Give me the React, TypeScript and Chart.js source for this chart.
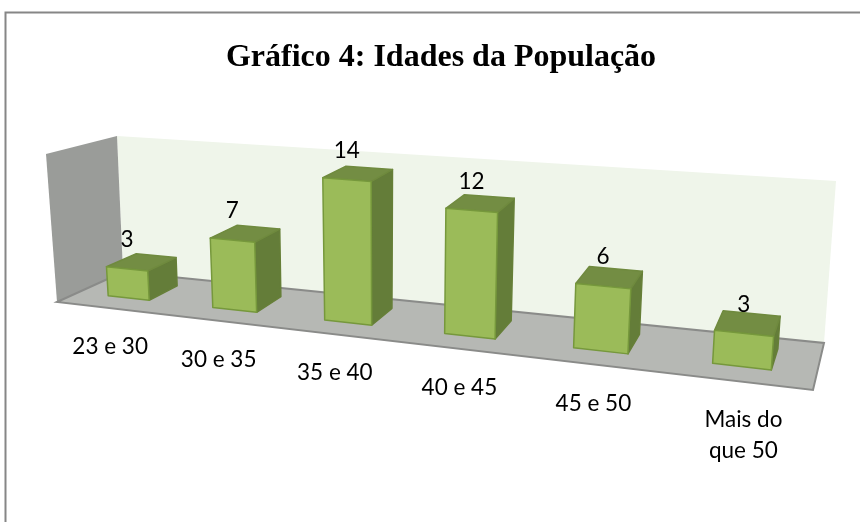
import React, { useEffect, useRef } from "react";
import { Chart, registerables } from "chart.js";

Chart.register(...registerables);

const titleText = "Gráfico 4: Idades da População";
const categories = ["23 e 30", "30 e 35", "35 e 40", "40 e 45", "45 e 50", ["Mais do", "que 50"]];
const ageCounts = [3, 7, 14, 12, 6, 3];
const axisMax = 15;

// Box corners of the 3D scene as the picture projects them.
type Pt = [number, number];
const FBL: Pt = [57, 302], FBR: Pt = [813, 390], FTL: Pt = [46, 154], FTR: Pt = [826, 218];
const BBL: Pt = [123, 272], BBR: Pt = [824, 343], BTL: Pt = [117, 136], BTR: Pt = [836, 181];
const PERSPECTIVE = 1.24;
const BAR_W0 = 0.32, BAR_W1 = 0.78;

const lerp = (a: number, b: number, t: number) => a + (b - a) * t;
const lerpPt = (a: Pt, b: Pt, t: number): Pt => [lerp(a[0], b[0], t), lerp(a[1], b[1], t)];
function project(u: number, v: number, w: number): Pt {
  const U = u / (PERSPECTIVE - (PERSPECTIVE - 1) * u);
  const fb = lerpPt(FBL, FBR, U), ft = lerpPt(FTL, FTR, U);
  const bb = lerpPt(BBL, BBR, U), bt = lerpPt(BTL, BTR, U);
  return lerpPt(lerpPt(fb, ft, v), lerpPt(bb, bt, v), w);
}
function poly(ctx: CanvasRenderingContext2D, pts: Pt[], fill: string, stroke?: string, lw = 1) {
  ctx.beginPath();
  pts.forEach((p, i) => (i ? ctx.lineTo(p[0], p[1]) : ctx.moveTo(p[0], p[1])));
  ctx.closePath();
  ctx.fillStyle = fill;
  ctx.fill();
  if (stroke) {
    ctx.strokeStyle = stroke;
    ctx.lineWidth = lw;
    ctx.lineJoin = "round";
    ctx.stroke();
  }
}

const scenePlugin = {
  id: "scene3d",
  beforeDraw(chart: any) {
    const { ctx, width, height } = chart;
    ctx.save();
    ctx.fillStyle = "#ffffff";
    ctx.fillRect(0, 0, width, height);
    ctx.strokeStyle = "#868686";
    ctx.lineWidth = 2;
    ctx.beginPath();
    ctx.moveTo(5.5, height);
    ctx.lineTo(5.5, 12.5);
    ctx.lineTo(width, 12.5);
    ctx.stroke();
    ctx.restore();
  },
  beforeDatasetDraw(chart: any, args: any) {
    const { ctx, chartArea: ca } = chart;
    const nu = (x: number) => (x - ca.left) / (ca.right - ca.left);
    const nv = (y: number) => (ca.bottom - y) / (ca.bottom - ca.top);
    ctx.save();
    poly(ctx, [BTL, BTR, BBR, BBL], "#eff5ea");
    poly(ctx, [FTL, BTL, BBL, FBL], "#9a9c99");
    poly(ctx, [FBL, FBR, BBR, BBL], "#b6b8b4");
    ctx.strokeStyle = "#8a8b89";
    ctx.lineWidth = 2;
    ctx.beginPath();
    ctx.moveTo(BBL[0], BBL[1]);
    ctx.lineTo(FBL[0], FBL[1]);
    ctx.lineTo(FBR[0], FBR[1]);
    ctx.lineTo(BBR[0], BBR[1]);
    ctx.lineTo(BBL[0], BBL[1]);
    ctx.stroke();

    args.meta.data.forEach((el: any) => {
      const { x, y, base, width: bw } = el.getProps(["x", "y", "base", "width"], true);
      const u0 = nu(x - bw / 2), u1 = nu(x + bw / 2), v0 = nv(base), v1 = nv(y);
      const a = project(u0, v0, BAR_W0), b = project(u1, v0, BAR_W0);
      const c = project(u1, v1, BAR_W0), d = project(u0, v1, BAR_W0);
      const e = project(u1, v0, BAR_W1), f = project(u1, v1, BAR_W1), g = project(u0, v1, BAR_W1);
      poly(ctx, [b, e, f, c], "#647d39", "#667f38", 1.5);
      poly(ctx, [d, c, f, g], "#738d43", "#6f8a3e", 1.5);
      poly(ctx, [a, b, c, d], el.options.backgroundColor, el.options.borderColor, 1.5);
    });
    ctx.restore();
    return false;
  },
  afterDatasetsDraw(chart: any) {
    const { ctx, chartArea: ca, scales } = chart;
    const nu = (x: number) => (x - ca.left) / (ca.right - ca.left);
    const nv = (y: number) => (ca.bottom - y) / (ca.bottom - ca.top);
    const meta = chart.getDatasetMeta(0);
    ctx.save();
    ctx.fillStyle = "#000000";
    ctx.font = "22.5px Lato";
    ctx.textAlign = "center";
    ctx.textBaseline = "middle";
    meta.data.forEach((el: any, i: number) => {
      const { x, y } = el.getProps(["x", "y"], true);
      const top = project(nu(x), nv(y), BAR_W0);
      ctx.fillText(String(chart.data.datasets[0].data[i]), top[0], top[1] - 29);

      const u = nu(x);
      const p = project(u, 0, 0);
      const raw = scales.x.getLabelForValue(i);
      const multi = Array.isArray(chart.data.labels[i]);
      const lines = multi ? chart.data.labels[i] : [raw];
      lines.forEach((line: string, k: number) => {
        ctx.fillText(line, p[0] + (multi ? 7 : 1.5), p[1] + 39 + k * 31);
      });
    });
    ctx.restore();
  },
};

export default function App() {
  const ref = useRef<HTMLCanvasElement>(null);
  useEffect(() => {
    const chart = new Chart(ref.current!, {
      type: "bar",
      data: {
        labels: categories as any,
        datasets: [
          {
            label: "Idades",
            data: ageCounts,
            backgroundColor: "#9bbb59",
            borderColor: "#76983c",
            categoryPercentage: 0.4,
            barPercentage: 1,
          },
        ],
      },
      options: {
        responsive: false,
        animation: false,
        layout: { padding: { left: 22 } },
        plugins: {
          legend: { display: false },
          tooltip: { enabled: false },
          title: {
            display: true,
            text: titleText,
            color: "#000000",
            font: { family: "Liberation Serif", size: 32, weight: "bold" },
            padding: { top: 39, bottom: 10 },
          },
        },
        scales: {
          x: { display: false, offset: true },
          y: { display: false, min: 0, max: axisMax },
        },
      },
      plugins: [scenePlugin],
    });
    return () => chart.destroy();
  }, []);
  return (
    <canvas
      ref={ref}
      width={860}
      height={522}
      style={{ position: "absolute", left: 0, top: 0, display: "block" }}
    />
  );
}
